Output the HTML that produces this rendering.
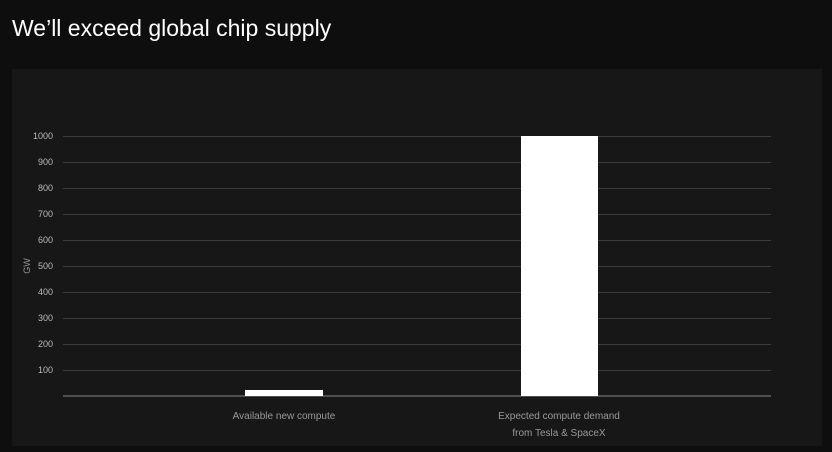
<!DOCTYPE html>
<html><head><style>
body{margin:0;width:832px;height:452px;background:#0e0e0e;overflow:hidden;font-family:"Liberation Sans",sans-serif}
.t{position:absolute;left:12px;top:15px;color:#fff;font-size:23px}
.p{position:absolute;left:12px;top:69px;width:810px;height:377px;background:#171717}
</style></head><body>
<div class="t">We’ll exceed global chip supply</div>
<div class="p"></div>
<svg width="832" height="452" style="position:absolute;left:0;top:0" font-family="Liberation Sans, sans-serif">
<g stroke="#3a3a3a" stroke-width="1">
<line x1="63" x2="771" y1="136.5" y2="136.5"/><line x1="63" x2="771" y1="162.5" y2="162.5"/>
<line x1="63" x2="771" y1="188.5" y2="188.5"/><line x1="63" x2="771" y1="214.5" y2="214.5"/>
<line x1="63" x2="771" y1="240.5" y2="240.5"/><line x1="63" x2="771" y1="266.5" y2="266.5"/>
<line x1="63" x2="771" y1="292.5" y2="292.5"/><line x1="63" x2="771" y1="318.5" y2="318.5"/>
<line x1="63" x2="771" y1="344.5" y2="344.5"/><line x1="63" x2="771" y1="370.5" y2="370.5"/>
</g>
<line x1="63" x2="771" y1="396" y2="396" stroke="#888" stroke-width="1"/>
<g fill="#bbb" font-size="9" text-anchor="end">
<text x="53" y="139">1000</text><text x="53" y="165">900</text><text x="53" y="191">800</text>
<text x="53" y="217">700</text><text x="53" y="243">600</text><text x="53" y="269">500</text>
<text x="53" y="295">400</text><text x="53" y="321">300</text><text x="53" y="347">200</text>
<text x="53" y="373">100</text>
</g>
<text transform="translate(30,266) rotate(-90)" fill="#999" font-size="9" text-anchor="middle">GW</text>
<rect x="245" y="390" width="78" height="6" fill="#fff"/>
<rect x="521" y="136" width="77" height="260" fill="#fff"/>
<g fill="#999" font-size="10" text-anchor="middle">
<text x="284" y="419">Available new compute</text>
<text x="559" y="419">Expected compute demand</text>
<text x="559" y="436">from Tesla &amp; SpaceX</text>
</g>
</svg>
</body></html>
